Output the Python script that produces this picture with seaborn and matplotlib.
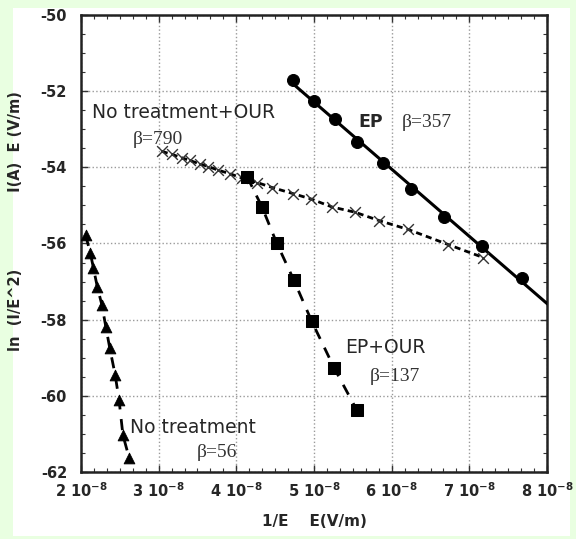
import numpy as np
import pandas as pd
import matplotlib
matplotlib.use('Agg')
import matplotlib.pyplot as plt
import seaborn as sns
from matplotlib.ticker import AutoMinorLocator, FuncFormatter
from matplotlib.patches import Rectangle

# values (x in units of 1e-8)
ep_x = [4.73, 5.00, 5.27, 5.55, 5.89, 6.25, 6.67, 7.16, 7.68]
ep_y = [-51.71, -52.26, -52.73, -53.34, -53.89, -54.57, -55.31, -56.07, -56.91]

epour_x = [4.14, 4.33, 4.52, 4.74, 4.97, 5.26, 5.55]
epour_y = [-54.25, -55.04, -55.99, -56.96, -58.04, -59.27, -60.37]

nt_x = [2.06, 2.12, 2.16, 2.21, 2.27, 2.32, 2.37, 2.44, 2.49, 2.54, 2.62]
nt_y = [-55.78, -56.25, -56.64, -57.14, -57.62, -58.19, -58.74, -59.45, -60.11, -61.03, -61.63]

ntour_x = [3.04, 3.17, 3.30, 3.40, 3.53, 3.64, 3.76, 3.92, 4.07, 4.27, 4.46,
           4.73, 4.96, 5.23, 5.53, 5.84, 6.21, 6.73, 7.18]
ntour_y = [-53.58, -53.66, -53.75, -53.82, -53.91, -53.98, -54.07, -54.17, -54.28,
           -54.40, -54.53, -54.69, -54.83, -55.04, -55.18, -55.40, -55.63, -56.03, -56.37]

x_ticks = [2, 3, 4, 5, 6, 7, 8]
y_ticks = [-62, -60, -58, -56, -54, -52, -50]

GREEN = '#E9FFE1'
SANS = 'DejaVu Sans'
SERIF = 'Liberation Serif'

sns.set_style('ticks')
plt.rcParams['font.family'] = [SANS]
plt.rcParams['mathtext.fontset'] = 'dejavusans'

fig = plt.figure(figsize=(5.76, 5.39), dpi=100, facecolor=GREEN)
fig.patches.append(Rectangle((0.0226, 0.006), 0.967, 0.979, transform=fig.transFigure,
                             facecolor='white', edgecolor='none', zorder=-10))
ax = fig.add_axes([0.1406, 0.1243, 0.8091, 0.8479])

sc = 1e-8
ep = pd.DataFrame({'x': np.array(ep_x) * sc, 'y': ep_y})
epour = pd.DataFrame({'x': np.array(epour_x) * sc, 'y': epour_y})
nt = pd.DataFrame({'x': np.array(nt_x) * sc, 'y': nt_y})
ntour = pd.DataFrame({'x': np.array(ntour_x) * sc, 'y': ntour_y})

# EP: fitted solid line extended to the right edge
k, b = np.polyfit(ep['x'], ep['y'], 1)
fit_x = np.array([ep['x'].min(), 8.2e-8])
sns.lineplot(x=fit_x, y=k * fit_x + b, ax=ax, color='black', lw=2.2, zorder=3)
sns.scatterplot(data=ep, x='x', y='y', ax=ax, color='black', marker='o', s=75,
                edgecolor='black', zorder=4)

# No treatment + OUR
sns.lineplot(data=ntour, x='x', y='y', ax=ax, color='black', lw=2.0, sort=False,
             estimator=None, linestyle=(0, (2.2, 1.5)), zorder=3)
sns.scatterplot(data=ntour, x='x', y='y', ax=ax, color='#333333', marker='x', s=60,
                linewidth=1.0, zorder=4)

# EP + OUR
sns.lineplot(data=epour, x='x', y='y', ax=ax, color='black', lw=2.0, sort=False,
             estimator=None, linestyle=(0, (4, 3.5)), zorder=3)
sns.scatterplot(data=epour, x='x', y='y', ax=ax, color='black', marker='s', s=85,
                edgecolor='black', zorder=5)

# No treatment
sns.lineplot(data=nt, x='x', y='y', ax=ax, color='black', lw=2.0, sort=False,
             estimator=None, linestyle=(0, (4, 3.5)), zorder=3)
sns.scatterplot(data=nt, x='x', y='y', ax=ax, color='black', marker='^', s=60,
                edgecolor='black', zorder=4)

ax.set_xlim(2e-8, 8e-8)
ax.set_ylim(-62, -50)
ax.set_xticks([t * sc for t in x_ticks])
ax.set_yticks(y_ticks)
ax.xaxis.set_major_formatter(FuncFormatter(lambda v, p: r'%d 10$^{\mathbf{-8}}$' % round(v / sc)))
ax.yaxis.set_major_formatter(FuncFormatter(lambda v, p: '%d' % round(v)))
ax.xaxis.set_minor_locator(AutoMinorLocator(6))
ax.yaxis.set_minor_locator(AutoMinorLocator(4))
ax.tick_params(which='both', direction='in', top=True, right=True, color='#333333')
ax.tick_params(which='major', length=5, width=1, labelsize=10.5, pad=7)
ax.tick_params(axis='y', which='major', pad=10)
ax.tick_params(which='minor', length=3, width=0.8)
for lab in ax.get_xticklabels() + ax.get_yticklabels():
    lab.set_fontweight('bold')
ax.grid(True, which='major', color='#9a9a9a', linestyle=':', lw=1.0)
for sp in ax.spines.values():
    sp.set_linewidth(1.8)
    sp.set_color('#222222')

ax.set_xlabel('1/E    E(V/m)', fontsize=11, fontweight='bold', labelpad=10)
ax.set_ylabel('ln  (I/E^2)' + ' ' * 15 + 'I(A)  E (V/m)', fontsize=10.5, fontweight='bold')
ax.yaxis.set_label_coords(-0.125, 0.55)

ax.text(2.14 * sc, -52.57, 'No treatment+OUR', fontsize=13.5, ha='left', va='center')
ax.text(2.67 * sc, -53.28, 'β=790', family=SERIF, fontsize=14, ha='left', va='center', color='#333333')
ax.text(5.57 * sc, -52.81, 'EP', fontsize=12.5, fontweight='bold', ha='left', va='center')
ax.text(6.13 * sc, -52.81, 'β=357', family=SERIF, fontsize=14, ha='left', va='center', color='#333333')
ax.text(5.40 * sc, -58.74, 'EP+OUR', fontsize=13.5, ha='left', va='center')
ax.text(5.72 * sc, -59.50, 'β=137', family=SERIF, fontsize=14, ha='left', va='center', color='#333333')
ax.text(2.63 * sc, -60.82, 'No treatment', fontsize=13.5, ha='left', va='center')
ax.text(3.49 * sc, -61.50, 'β=56', family=SERIF, fontsize=14, ha='left', va='center', color='#333333')

fig.savefig('out.png', dpi=100, facecolor=GREEN)
